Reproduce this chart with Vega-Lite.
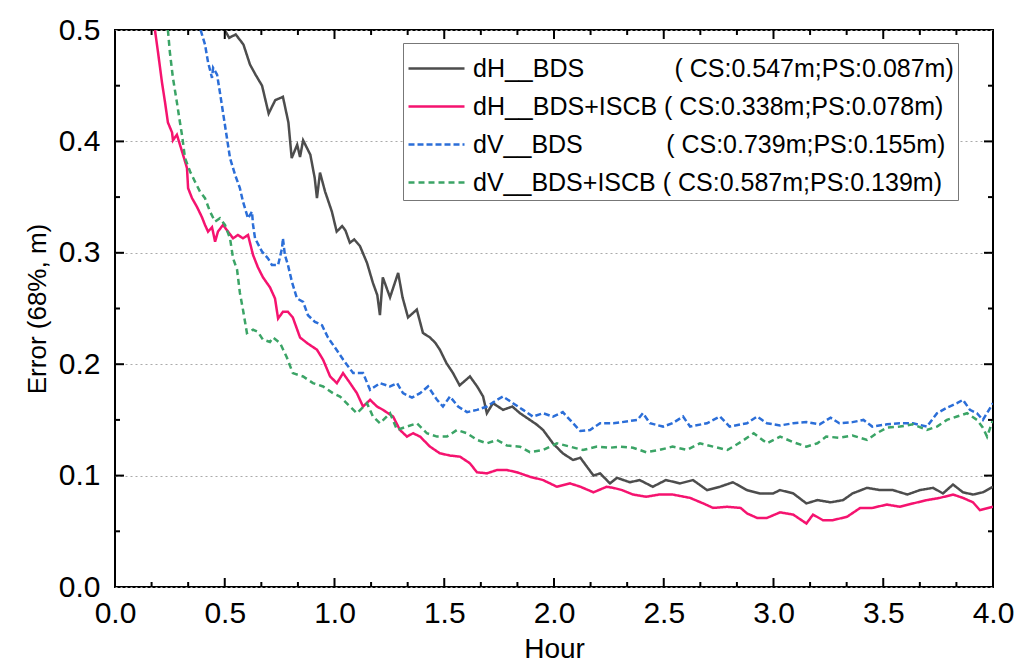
{
  "$schema": "https://vega.github.io/schema/vega-lite/v6.json",
  "width": 878,
  "height": 557,
  "autosize": {"type": "none"},
  "padding": {"left": 115, "top": 30, "right": 37, "bottom": 75},
  "background": "white",
  "config": {
    "view": {"stroke": "#000", "strokeWidth": 2},
    "font": "Liberation Sans",
    "axis": {"labelFont": "Liberation Sans", "titleFont": "Liberation Sans", "titleFontWeight": "normal", "labelColor": "#000", "titleColor": "#000", "ticks": false, "domain": false, "labelFlush": false}
  },
  "datasets": {
    "ticks": [
      {"a":"xM","v":0.5},{"a":"xM","v":1.0},{"a":"xM","v":1.5},{"a":"xM","v":2.0},{"a":"xM","v":2.5},{"a":"xM","v":3.0},{"a":"xM","v":3.5},
      {"a":"xm","v":0.16667},{"a":"xm","v":0.33333},{"a":"xm","v":0.66667},{"a":"xm","v":0.83333},{"a":"xm","v":1.16667},{"a":"xm","v":1.33333},{"a":"xm","v":1.66667},{"a":"xm","v":1.83333},{"a":"xm","v":2.16667},{"a":"xm","v":2.33333},{"a":"xm","v":2.66667},{"a":"xm","v":2.83333},{"a":"xm","v":3.16667},{"a":"xm","v":3.33333},{"a":"xm","v":3.66667},{"a":"xm","v":3.83333},
      {"a":"yM","v":0.1},{"a":"yM","v":0.2},{"a":"yM","v":0.3},{"a":"yM","v":0.4},
      {"a":"ym","v":0.05},{"a":"ym","v":0.15},{"a":"ym","v":0.25},{"a":"ym","v":0.35},{"a":"ym","v":0.45}
    ],
    "series": [
    {"s":"dH__BDS","h":0.50,"e":0.500},{"s":"dH__BDS","h":0.52,"e":0.493},{"s":"dH__BDS","h":0.55,"e":0.496},{"s":"dH__BDS","h":0.585,"e":0.487},{"s":"dH__BDS","h":0.615,"e":0.469},{"s":"dH__BDS","h":0.64,"e":0.460},{"s":"dH__BDS","h":0.67,"e":0.450},{"s":"dH__BDS","h":0.70,"e":0.425},{"s":"dH__BDS","h":0.73,"e":0.437},{"s":"dH__BDS","h":0.765,"e":0.440},{"s":"dH__BDS","h":0.79,"e":0.417},{"s":"dH__BDS","h":0.805,"e":0.385},{"s":"dH__BDS","h":0.83,"e":0.397},{"s":"dH__BDS","h":0.843,"e":0.386},{"s":"dH__BDS","h":0.857,"e":0.401},{"s":"dH__BDS","h":0.89,"e":0.388},{"s":"dH__BDS","h":0.91,"e":0.367},{"s":"dH__BDS","h":0.92,"e":0.349},{"s":"dH__BDS","h":0.934,"e":0.372},{"s":"dH__BDS","h":0.957,"e":0.355},{"s":"dH__BDS","h":0.988,"e":0.337},{"s":"dH__BDS","h":1.01,"e":0.319},{"s":"dH__BDS","h":1.035,"e":0.324},{"s":"dH__BDS","h":1.05,"e":0.320},{"s":"dH__BDS","h":1.07,"e":0.309},{"s":"dH__BDS","h":1.09,"e":0.312},{"s":"dH__BDS","h":1.116,"e":0.306},{"s":"dH__BDS","h":1.148,"e":0.291},{"s":"dH__BDS","h":1.175,"e":0.273},{"s":"dH__BDS","h":1.195,"e":0.262},{"s":"dH__BDS","h":1.207,"e":0.244},{"s":"dH__BDS","h":1.22,"e":0.278},{"s":"dH__BDS","h":1.253,"e":0.260},{"s":"dH__BDS","h":1.29,"e":0.282},{"s":"dH__BDS","h":1.31,"e":0.260},{"s":"dH__BDS","h":1.335,"e":0.242},{"s":"dH__BDS","h":1.375,"e":0.249},{"s":"dH__BDS","h":1.403,"e":0.228},{"s":"dH__BDS","h":1.435,"e":0.224},{"s":"dH__BDS","h":1.46,"e":0.219},{"s":"dH__BDS","h":1.48,"e":0.213},{"s":"dH__BDS","h":1.51,"e":0.201},{"s":"dH__BDS","h":1.54,"e":0.192},{"s":"dH__BDS","h":1.57,"e":0.181},{"s":"dH__BDS","h":1.617,"e":0.189},{"s":"dH__BDS","h":1.65,"e":0.180},{"s":"dH__BDS","h":1.677,"e":0.171},{"s":"dH__BDS","h":1.694,"e":0.156},{"s":"dH__BDS","h":1.722,"e":0.165},{"s":"dH__BDS","h":1.768,"e":0.159},{"s":"dH__BDS","h":1.81,"e":0.162},{"s":"dH__BDS","h":1.845,"e":0.156},{"s":"dH__BDS","h":1.89,"e":0.150},{"s":"dH__BDS","h":1.92,"e":0.146},{"s":"dH__BDS","h":1.95,"e":0.141},{"s":"dH__BDS","h":1.995,"e":0.129},{"s":"dH__BDS","h":2.04,"e":0.120},{"s":"dH__BDS","h":2.087,"e":0.114},{"s":"dH__BDS","h":2.12,"e":0.116},{"s":"dH__BDS","h":2.15,"e":0.108},{"s":"dH__BDS","h":2.18,"e":0.100},{"s":"dH__BDS","h":2.21,"e":0.102},{"s":"dH__BDS","h":2.255,"e":0.093},{"s":"dH__BDS","h":2.287,"e":0.098},{"s":"dH__BDS","h":2.346,"e":0.094},{"s":"dH__BDS","h":2.39,"e":0.096},{"s":"dH__BDS","h":2.45,"e":0.090},{"s":"dH__BDS","h":2.51,"e":0.096},{"s":"dH__BDS","h":2.574,"e":0.093},{"s":"dH__BDS","h":2.633,"e":0.096},{"s":"dH__BDS","h":2.697,"e":0.087},{"s":"dH__BDS","h":2.756,"e":0.090},{"s":"dH__BDS","h":2.815,"e":0.094},{"s":"dH__BDS","h":2.879,"e":0.087},{"s":"dH__BDS","h":2.938,"e":0.084},{"s":"dH__BDS","h":2.998,"e":0.084},{"s":"dH__BDS","h":3.03,"e":0.087},{"s":"dH__BDS","h":3.09,"e":0.084},{"s":"dH__BDS","h":3.15,"e":0.075},{"s":"dH__BDS","h":3.2,"e":0.078},{"s":"dH__BDS","h":3.26,"e":0.076},{"s":"dH__BDS","h":3.317,"e":0.078},{"s":"dH__BDS","h":3.36,"e":0.084},{"s":"dH__BDS","h":3.426,"e":0.089},{"s":"dH__BDS","h":3.485,"e":0.087},{"s":"dH__BDS","h":3.544,"e":0.087},{"s":"dH__BDS","h":3.61,"e":0.083},{"s":"dH__BDS","h":3.667,"e":0.087},{"s":"dH__BDS","h":3.727,"e":0.089},{"s":"dH__BDS","h":3.772,"e":0.084},{"s":"dH__BDS","h":3.818,"e":0.092},{"s":"dH__BDS","h":3.863,"e":0.085},{"s":"dH__BDS","h":3.909,"e":0.083},{"s":"dH__BDS","h":3.954,"e":0.085},{"s":"dH__BDS","h":4.0,"e":0.090},

    {"s":"dH__BDS+ISCB","h":0.182,"e":0.500},{"s":"dH__BDS+ISCB","h":0.196,"e":0.480},{"s":"dH__BDS+ISCB","h":0.214,"e":0.453},{"s":"dH__BDS+ISCB","h":0.228,"e":0.435},{"s":"dH__BDS+ISCB","h":0.241,"e":0.417},{"s":"dH__BDS+ISCB","h":0.26,"e":0.408},{"s":"dH__BDS+ISCB","h":0.264,"e":0.401},{"s":"dH__BDS+ISCB","h":0.282,"e":0.406},{"s":"dH__BDS+ISCB","h":0.296,"e":0.397},{"s":"dH__BDS+ISCB","h":0.31,"e":0.388},{"s":"dH__BDS+ISCB","h":0.328,"e":0.376},{"s":"dH__BDS+ISCB","h":0.333,"e":0.358},{"s":"dH__BDS+ISCB","h":0.351,"e":0.349},{"s":"dH__BDS+ISCB","h":0.374,"e":0.341},{"s":"dH__BDS+ISCB","h":0.396,"e":0.332},{"s":"dH__BDS+ISCB","h":0.41,"e":0.325},{"s":"dH__BDS+ISCB","h":0.424,"e":0.319},{"s":"dH__BDS+ISCB","h":0.442,"e":0.323},{"s":"dH__BDS+ISCB","h":0.456,"e":0.310},{"s":"dH__BDS+ISCB","h":0.469,"e":0.319},{"s":"dH__BDS+ISCB","h":0.492,"e":0.325},{"s":"dH__BDS+ISCB","h":0.515,"e":0.319},{"s":"dH__BDS+ISCB","h":0.538,"e":0.313},{"s":"dH__BDS+ISCB","h":0.56,"e":0.316},{"s":"dH__BDS+ISCB","h":0.583,"e":0.313},{"s":"dH__BDS+ISCB","h":0.606,"e":0.316},{"s":"dH__BDS+ISCB","h":0.629,"e":0.298},{"s":"dH__BDS+ISCB","h":0.651,"e":0.287},{"s":"dH__BDS+ISCB","h":0.674,"e":0.278},{"s":"dH__BDS+ISCB","h":0.706,"e":0.269},{"s":"dH__BDS+ISCB","h":0.729,"e":0.259},{"s":"dH__BDS+ISCB","h":0.743,"e":0.241},{"s":"dH__BDS+ISCB","h":0.765,"e":0.247},{"s":"dH__BDS+ISCB","h":0.788,"e":0.247},{"s":"dH__BDS+ISCB","h":0.81,"e":0.242},{"s":"dH__BDS+ISCB","h":0.843,"e":0.224},{"s":"dH__BDS+ISCB","h":0.875,"e":0.219},{"s":"dH__BDS+ISCB","h":0.92,"e":0.213},{"s":"dH__BDS+ISCB","h":0.948,"e":0.204},{"s":"dH__BDS+ISCB","h":0.98,"e":0.189},{"s":"dH__BDS+ISCB","h":1.011,"e":0.183},{"s":"dH__BDS+ISCB","h":1.039,"e":0.192},{"s":"dH__BDS+ISCB","h":1.071,"e":0.183},{"s":"dH__BDS+ISCB","h":1.102,"e":0.174},{"s":"dH__BDS+ISCB","h":1.13,"e":0.162},{"s":"dH__BDS+ISCB","h":1.162,"e":0.168},{"s":"dH__BDS+ISCB","h":1.194,"e":0.162},{"s":"dH__BDS+ISCB","h":1.221,"e":0.159},{"s":"dH__BDS+ISCB","h":1.267,"e":0.153},{"s":"dH__BDS+ISCB","h":1.298,"e":0.141},{"s":"dH__BDS+ISCB","h":1.33,"e":0.135},{"s":"dH__BDS+ISCB","h":1.358,"e":0.138},{"s":"dH__BDS+ISCB","h":1.39,"e":0.135},{"s":"dH__BDS+ISCB","h":1.435,"e":0.126},{"s":"dH__BDS+ISCB","h":1.48,"e":0.120},{"s":"dH__BDS+ISCB","h":1.526,"e":0.118},{"s":"dH__BDS+ISCB","h":1.572,"e":0.117},{"s":"dH__BDS+ISCB","h":1.617,"e":0.111},{"s":"dH__BDS+ISCB","h":1.649,"e":0.103},{"s":"dH__BDS+ISCB","h":1.694,"e":0.102},{"s":"dH__BDS+ISCB","h":1.74,"e":0.105},{"s":"dH__BDS+ISCB","h":1.786,"e":0.105},{"s":"dH__BDS+ISCB","h":1.831,"e":0.103},{"s":"dH__BDS+ISCB","h":1.89,"e":0.099},{"s":"dH__BDS+ISCB","h":1.95,"e":0.096},{"s":"dH__BDS+ISCB","h":2.013,"e":0.090},{"s":"dH__BDS+ISCB","h":2.073,"e":0.093},{"s":"dH__BDS+ISCB","h":2.12,"e":0.090},{"s":"dH__BDS+ISCB","h":2.18,"e":0.085},{"s":"dH__BDS+ISCB","h":2.24,"e":0.090},{"s":"dH__BDS+ISCB","h":2.27,"e":0.089},{"s":"dH__BDS+ISCB","h":2.31,"e":0.087},{"s":"dH__BDS+ISCB","h":2.36,"e":0.083},{"s":"dH__BDS+ISCB","h":2.42,"e":0.081},{"s":"dH__BDS+ISCB","h":2.48,"e":0.083},{"s":"dH__BDS+ISCB","h":2.54,"e":0.083},{"s":"dH__BDS+ISCB","h":2.62,"e":0.080},{"s":"dH__BDS+ISCB","h":2.68,"e":0.075},{"s":"dH__BDS+ISCB","h":2.725,"e":0.071},{"s":"dH__BDS+ISCB","h":2.79,"e":0.072},{"s":"dH__BDS+ISCB","h":2.85,"e":0.071},{"s":"dH__BDS+ISCB","h":2.88,"e":0.066},{"s":"dH__BDS+ISCB","h":2.925,"e":0.062},{"s":"dH__BDS+ISCB","h":2.97,"e":0.062},{"s":"dH__BDS+ISCB","h":3.03,"e":0.067},{"s":"dH__BDS+ISCB","h":3.09,"e":0.065},{"s":"dH__BDS+ISCB","h":3.15,"e":0.057},{"s":"dH__BDS+ISCB","h":3.18,"e":0.065},{"s":"dH__BDS+ISCB","h":3.225,"e":0.060},{"s":"dH__BDS+ISCB","h":3.27,"e":0.060},{"s":"dH__BDS+ISCB","h":3.335,"e":0.063},{"s":"dH__BDS+ISCB","h":3.395,"e":0.071},{"s":"dH__BDS+ISCB","h":3.45,"e":0.071},{"s":"dH__BDS+ISCB","h":3.517,"e":0.074},{"s":"dH__BDS+ISCB","h":3.576,"e":0.072},{"s":"dH__BDS+ISCB","h":3.635,"e":0.075},{"s":"dH__BDS+ISCB","h":3.699,"e":0.078},{"s":"dH__BDS+ISCB","h":3.758,"e":0.080},{"s":"dH__BDS+ISCB","h":3.818,"e":0.083},{"s":"dH__BDS+ISCB","h":3.863,"e":0.080},{"s":"dH__BDS+ISCB","h":3.909,"e":0.076},{"s":"dH__BDS+ISCB","h":3.94,"e":0.069},{"s":"dH__BDS+ISCB","h":4.0,"e":0.072},

    {"s":"dV__BDS","h":0.39,"e":0.500},{"s":"dV__BDS","h":0.41,"e":0.487},{"s":"dV__BDS","h":0.424,"e":0.471},{"s":"dV__BDS","h":0.442,"e":0.457},{"s":"dV__BDS","h":0.447,"e":0.466},{"s":"dV__BDS","h":0.465,"e":0.460},{"s":"dV__BDS","h":0.478,"e":0.444},{"s":"dV__BDS","h":0.492,"e":0.426},{"s":"dV__BDS","h":0.51,"e":0.403},{"s":"dV__BDS","h":0.524,"e":0.385},{"s":"dV__BDS","h":0.547,"e":0.370},{"s":"dV__BDS","h":0.569,"e":0.358},{"s":"dV__BDS","h":0.583,"e":0.346},{"s":"dV__BDS","h":0.606,"e":0.331},{"s":"dV__BDS","h":0.624,"e":0.337},{"s":"dV__BDS","h":0.629,"e":0.325},{"s":"dV__BDS","h":0.638,"e":0.313},{"s":"dV__BDS","h":0.67,"e":0.301},{"s":"dV__BDS","h":0.697,"e":0.295},{"s":"dV__BDS","h":0.715,"e":0.289},{"s":"dV__BDS","h":0.743,"e":0.289},{"s":"dV__BDS","h":0.761,"e":0.304},{"s":"dV__BDS","h":0.765,"e":0.313},{"s":"dV__BDS","h":0.774,"e":0.298},{"s":"dV__BDS","h":0.788,"e":0.289},{"s":"dV__BDS","h":0.806,"e":0.274},{"s":"dV__BDS","h":0.829,"e":0.259},{"s":"dV__BDS","h":0.857,"e":0.256},{"s":"dV__BDS","h":0.879,"e":0.244},{"s":"dV__BDS","h":0.911,"e":0.238},{"s":"dV__BDS","h":0.943,"e":0.235},{"s":"dV__BDS","h":0.97,"e":0.224},{"s":"dV__BDS","h":1.002,"e":0.215},{"s":"dV__BDS","h":1.04,"e":0.204},{"s":"dV__BDS","h":1.085,"e":0.192},{"s":"dV__BDS","h":1.13,"e":0.192},{"s":"dV__BDS","h":1.162,"e":0.177},{"s":"dV__BDS","h":1.207,"e":0.183},{"s":"dV__BDS","h":1.253,"e":0.180},{"s":"dV__BDS","h":1.285,"e":0.183},{"s":"dV__BDS","h":1.312,"e":0.174},{"s":"dV__BDS","h":1.353,"e":0.170},{"s":"dV__BDS","h":1.39,"e":0.174},{"s":"dV__BDS","h":1.426,"e":0.180},{"s":"dV__BDS","h":1.467,"e":0.168},{"s":"dV__BDS","h":1.494,"e":0.162},{"s":"dV__BDS","h":1.526,"e":0.171},{"s":"dV__BDS","h":1.563,"e":0.162},{"s":"dV__BDS","h":1.604,"e":0.157},{"s":"dV__BDS","h":1.649,"e":0.159},{"s":"dV__BDS","h":1.694,"e":0.162},{"s":"dV__BDS","h":1.74,"e":0.168},{"s":"dV__BDS","h":1.768,"e":0.171},{"s":"dV__BDS","h":1.813,"e":0.165},{"s":"dV__BDS","h":1.859,"e":0.159},{"s":"dV__BDS","h":1.904,"e":0.153},{"s":"dV__BDS","h":1.95,"e":0.156},{"s":"dV__BDS","h":1.995,"e":0.153},{"s":"dV__BDS","h":2.04,"e":0.157},{"s":"dV__BDS","h":2.087,"e":0.147},{"s":"dV__BDS","h":2.12,"e":0.140},{"s":"dV__BDS","h":2.164,"e":0.141},{"s":"dV__BDS","h":2.21,"e":0.147},{"s":"dV__BDS","h":2.27,"e":0.147},{"s":"dV__BDS","h":2.31,"e":0.148},{"s":"dV__BDS","h":2.38,"e":0.150},{"s":"dV__BDS","h":2.405,"e":0.156},{"s":"dV__BDS","h":2.437,"e":0.147},{"s":"dV__BDS","h":2.497,"e":0.144},{"s":"dV__BDS","h":2.54,"e":0.147},{"s":"dV__BDS","h":2.588,"e":0.153},{"s":"dV__BDS","h":2.62,"e":0.144},{"s":"dV__BDS","h":2.697,"e":0.147},{"s":"dV__BDS","h":2.756,"e":0.153},{"s":"dV__BDS","h":2.8,"e":0.144},{"s":"dV__BDS","h":2.879,"e":0.147},{"s":"dV__BDS","h":2.925,"e":0.153},{"s":"dV__BDS","h":2.97,"e":0.147},{"s":"dV__BDS","h":3.03,"e":0.145},{"s":"dV__BDS","h":3.09,"e":0.147},{"s":"dV__BDS","h":3.15,"e":0.148},{"s":"dV__BDS","h":3.21,"e":0.146},{"s":"dV__BDS","h":3.26,"e":0.152},{"s":"dV__BDS","h":3.3,"e":0.147},{"s":"dV__BDS","h":3.36,"e":0.148},{"s":"dV__BDS","h":3.41,"e":0.150},{"s":"dV__BDS","h":3.45,"e":0.144},{"s":"dV__BDS","h":3.517,"e":0.146},{"s":"dV__BDS","h":3.576,"e":0.147},{"s":"dV__BDS","h":3.635,"e":0.147},{"s":"dV__BDS","h":3.699,"e":0.144},{"s":"dV__BDS","h":3.745,"e":0.156},{"s":"dV__BDS","h":3.79,"e":0.161},{"s":"dV__BDS","h":3.836,"e":0.165},{"s":"dV__BDS","h":3.863,"e":0.168},{"s":"dV__BDS","h":3.895,"e":0.159},{"s":"dV__BDS","h":3.927,"e":0.156},{"s":"dV__BDS","h":3.954,"e":0.150},{"s":"dV__BDS","h":4.0,"e":0.165},

    {"s":"dV__BDS+ISCB","h":0.241,"e":0.500},{"s":"dV__BDS+ISCB","h":0.25,"e":0.480},{"s":"dV__BDS+ISCB","h":0.264,"e":0.457},{"s":"dV__BDS+ISCB","h":0.282,"e":0.435},{"s":"dV__BDS+ISCB","h":0.296,"e":0.417},{"s":"dV__BDS+ISCB","h":0.305,"e":0.406},{"s":"dV__BDS+ISCB","h":0.319,"e":0.385},{"s":"dV__BDS+ISCB","h":0.342,"e":0.373},{"s":"dV__BDS+ISCB","h":0.364,"e":0.364},{"s":"dV__BDS+ISCB","h":0.387,"e":0.355},{"s":"dV__BDS+ISCB","h":0.41,"e":0.349},{"s":"dV__BDS+ISCB","h":0.433,"e":0.337},{"s":"dV__BDS+ISCB","h":0.456,"e":0.328},{"s":"dV__BDS+ISCB","h":0.478,"e":0.331},{"s":"dV__BDS+ISCB","h":0.501,"e":0.325},{"s":"dV__BDS+ISCB","h":0.524,"e":0.313},{"s":"dV__BDS+ISCB","h":0.538,"e":0.295},{"s":"dV__BDS+ISCB","h":0.556,"e":0.285},{"s":"dV__BDS+ISCB","h":0.569,"e":0.264},{"s":"dV__BDS+ISCB","h":0.583,"e":0.249},{"s":"dV__BDS+ISCB","h":0.601,"e":0.228},{"s":"dV__BDS+ISCB","h":0.629,"e":0.231},{"s":"dV__BDS+ISCB","h":0.651,"e":0.229},{"s":"dV__BDS+ISCB","h":0.674,"e":0.222},{"s":"dV__BDS+ISCB","h":0.706,"e":0.220},{"s":"dV__BDS+ISCB","h":0.72,"e":0.224},{"s":"dV__BDS+ISCB","h":0.752,"e":0.219},{"s":"dV__BDS+ISCB","h":0.783,"e":0.206},{"s":"dV__BDS+ISCB","h":0.81,"e":0.192},{"s":"dV__BDS+ISCB","h":0.857,"e":0.189},{"s":"dV__BDS+ISCB","h":0.902,"e":0.183},{"s":"dV__BDS+ISCB","h":0.948,"e":0.180},{"s":"dV__BDS+ISCB","h":0.993,"e":0.174},{"s":"dV__BDS+ISCB","h":1.025,"e":0.171},{"s":"dV__BDS+ISCB","h":1.071,"e":0.162},{"s":"dV__BDS+ISCB","h":1.102,"e":0.156},{"s":"dV__BDS+ISCB","h":1.148,"e":0.165},{"s":"dV__BDS+ISCB","h":1.175,"e":0.153},{"s":"dV__BDS+ISCB","h":1.207,"e":0.147},{"s":"dV__BDS+ISCB","h":1.253,"e":0.156},{"s":"dV__BDS+ISCB","h":1.285,"e":0.141},{"s":"dV__BDS+ISCB","h":1.33,"e":0.144},{"s":"dV__BDS+ISCB","h":1.376,"e":0.147},{"s":"dV__BDS+ISCB","h":1.421,"e":0.138},{"s":"dV__BDS+ISCB","h":1.467,"e":0.135},{"s":"dV__BDS+ISCB","h":1.512,"e":0.135},{"s":"dV__BDS+ISCB","h":1.558,"e":0.141},{"s":"dV__BDS+ISCB","h":1.604,"e":0.138},{"s":"dV__BDS+ISCB","h":1.649,"e":0.132},{"s":"dV__BDS+ISCB","h":1.694,"e":0.129},{"s":"dV__BDS+ISCB","h":1.74,"e":0.132},{"s":"dV__BDS+ISCB","h":1.786,"e":0.127},{"s":"dV__BDS+ISCB","h":1.845,"e":0.126},{"s":"dV__BDS+ISCB","h":1.89,"e":0.121},{"s":"dV__BDS+ISCB","h":1.95,"e":0.123},{"s":"dV__BDS+ISCB","h":2.013,"e":0.129},{"s":"dV__BDS+ISCB","h":2.073,"e":0.126},{"s":"dV__BDS+ISCB","h":2.132,"e":0.123},{"s":"dV__BDS+ISCB","h":2.196,"e":0.126},{"s":"dV__BDS+ISCB","h":2.255,"e":0.125},{"s":"dV__BDS+ISCB","h":2.3,"e":0.126},{"s":"dV__BDS+ISCB","h":2.36,"e":0.125},{"s":"dV__BDS+ISCB","h":2.42,"e":0.121},{"s":"dV__BDS+ISCB","h":2.48,"e":0.123},{"s":"dV__BDS+ISCB","h":2.54,"e":0.126},{"s":"dV__BDS+ISCB","h":2.606,"e":0.123},{"s":"dV__BDS+ISCB","h":2.665,"e":0.129},{"s":"dV__BDS+ISCB","h":2.725,"e":0.126},{"s":"dV__BDS+ISCB","h":2.79,"e":0.123},{"s":"dV__BDS+ISCB","h":2.85,"e":0.130},{"s":"dV__BDS+ISCB","h":2.91,"e":0.138},{"s":"dV__BDS+ISCB","h":2.97,"e":0.129},{"s":"dV__BDS+ISCB","h":3.03,"e":0.135},{"s":"dV__BDS+ISCB","h":3.09,"e":0.130},{"s":"dV__BDS+ISCB","h":3.15,"e":0.126},{"s":"dV__BDS+ISCB","h":3.2,"e":0.129},{"s":"dV__BDS+ISCB","h":3.24,"e":0.135},{"s":"dV__BDS+ISCB","h":3.3,"e":0.134},{"s":"dV__BDS+ISCB","h":3.36,"e":0.136},{"s":"dV__BDS+ISCB","h":3.426,"e":0.132},{"s":"dV__BDS+ISCB","h":3.47,"e":0.138},{"s":"dV__BDS+ISCB","h":3.517,"e":0.143},{"s":"dV__BDS+ISCB","h":3.576,"e":0.144},{"s":"dV__BDS+ISCB","h":3.635,"e":0.146},{"s":"dV__BDS+ISCB","h":3.699,"e":0.141},{"s":"dV__BDS+ISCB","h":3.745,"e":0.144},{"s":"dV__BDS+ISCB","h":3.79,"e":0.150},{"s":"dV__BDS+ISCB","h":3.836,"e":0.153},{"s":"dV__BDS+ISCB","h":3.882,"e":0.156},{"s":"dV__BDS+ISCB","h":3.927,"e":0.150},{"s":"dV__BDS+ISCB","h":3.954,"e":0.143},{"s":"dV__BDS+ISCB","h":3.973,"e":0.135},{"s":"dV__BDS+ISCB","h":4.0,"e":0.150}
    ]
  },
  "data": {"name": "series"},
  "resolve": {"axis": {"x": "independent", "y": "independent"}},
  "layer": [
    {
      "mark": {"type": "line", "strokeWidth": 2.5, "clip": true},
      "encoding": {
        "x": {"field": "h", "type": "quantitative", "scale": {"domain": [0, 4], "nice": false, "zero": false},
          "axis": {"orient": "bottom", "values": [0, 0.5, 1, 1.5, 2, 2.5, 3, 3.5, 4], "format": ".1f", "grid": false, "labelFontSize": 30, "labelPadding": 11, "title": "Hour", "titleFontSize": 28, "titlePadding": 7}},
        "y": {"field": "e", "type": "quantitative", "scale": {"domain": [0, 0.5], "nice": false},
          "axis": {"orient": "left", "values": [0, 0.1, 0.2, 0.3, 0.4, 0.5], "format": ".1f", "labelFontSize": 30, "labelPadding": 15, "grid": true, "gridDash": [2, 3], "gridColor": "#aaa", "gridWidth": 1, "title": "Error (68%, m)", "titleFontSize": 26, "titlePadding": 8}},
        "color": {"field": "s", "type": "nominal",
          "scale": {"domain": ["dH__BDS", "dH__BDS+ISCB", "dV__BDS", "dV__BDS+ISCB"], "range": ["#4d4d4d", "#f5136f", "#2b6ed8", "#3ba466"]},
          "legend": {"title": null, "orient": "none", "legendX": 288, "legendY": 13, "strokeColor": "#777", "fillColor": "white", "padding": 4, "labelFont": "Liberation Sans", "labelFontSize": 25, "labelColor": "#000", "symbolType": "M-1,0H1.8", "symbolSize": 1600, "symbolStrokeWidth": 2.5, "symbolFillColor": "transparent", "rowPadding": 3, "labelOffset": 23, "labelLimit": 800,
            "labelExpr": "datum.label == 'dH__BDS' ? 'dH__BDS\u00a0\u00a0\u00a0\u00a0\u00a0\u00a0\u00a0\u00a0\u00a0\u00a0\u00a0\u00a0\u00a0( CS:0.547m;PS:0.087m)' : datum.label == 'dH__BDS+ISCB' ? 'dH__BDS+ISCB ( CS:0.338m;PS:0.078m)\u00a0\u00a0\u00a0\u00a0' : datum.label == 'dV__BDS' ? 'dV__BDS\u00a0\u00a0\u00a0\u00a0\u00a0\u00a0\u00a0\u00a0\u00a0\u00a0\u00a0\u00a0( CS:0.739m;PS:0.155m)' : 'dV__BDS+ISCB ( CS:0.587m;PS:0.139m)'"}},
        "strokeDash": {"field": "s", "type": "nominal",
          "scale": {"domain": ["dH__BDS", "dH__BDS+ISCB", "dV__BDS", "dV__BDS+ISCB"], "range": [[1, 0], [1, 0], [6, 3], [6, 4]]},
          "legend": {"title": null, "orient": "none", "legendX": 288, "legendY": 13, "strokeColor": "#777", "fillColor": "white", "padding": 4, "labelFont": "Liberation Sans", "labelFontSize": 25, "labelColor": "#000", "symbolType": "M-1,0H1.8", "symbolSize": 1600, "symbolStrokeWidth": 2.5, "symbolFillColor": "transparent", "rowPadding": 3, "labelOffset": 23, "labelLimit": 800,
            "labelExpr": "datum.label == 'dH__BDS' ? 'dH__BDS\u00a0\u00a0\u00a0\u00a0\u00a0\u00a0\u00a0\u00a0\u00a0\u00a0\u00a0\u00a0\u00a0( CS:0.547m;PS:0.087m)' : datum.label == 'dH__BDS+ISCB' ? 'dH__BDS+ISCB ( CS:0.338m;PS:0.078m)\u00a0\u00a0\u00a0\u00a0' : datum.label == 'dV__BDS' ? 'dV__BDS\u00a0\u00a0\u00a0\u00a0\u00a0\u00a0\u00a0\u00a0\u00a0\u00a0\u00a0\u00a0( CS:0.739m;PS:0.155m)' : 'dV__BDS+ISCB ( CS:0.587m;PS:0.139m)'"}}
      }
    },
    {
      "data": {"name": "ticks"},
      "transform": [{"filter": "datum.a == 'xM'"}],
      "mark": {"type": "tick", "orient": "vertical", "size": 18, "thickness": 2, "color": "#000", "opacity": 1, "clip": true},
      "encoding": {"x": {"field": "v", "type": "quantitative", "axis": null}, "y": {"datum": 0, "type": "quantitative", "axis": null}}
    },
    {
      "data": {"name": "ticks"},
      "transform": [{"filter": "datum.a == 'xM'"}],
      "mark": {"type": "tick", "orient": "vertical", "size": 18, "thickness": 2, "color": "#000", "opacity": 1, "clip": true},
      "encoding": {"x": {"field": "v", "type": "quantitative", "axis": null}, "y": {"datum": 0.5, "type": "quantitative", "axis": null}}
    },
    {
      "data": {"name": "ticks"},
      "transform": [{"filter": "datum.a == 'xm'"}],
      "mark": {"type": "tick", "orient": "vertical", "size": 10, "thickness": 2, "color": "#000", "opacity": 1, "clip": true},
      "encoding": {"x": {"field": "v", "type": "quantitative", "axis": null}, "y": {"datum": 0, "type": "quantitative", "axis": null}}
    },
    {
      "data": {"name": "ticks"},
      "transform": [{"filter": "datum.a == 'xm'"}],
      "mark": {"type": "tick", "orient": "vertical", "size": 10, "thickness": 2, "color": "#000", "opacity": 1, "clip": true},
      "encoding": {"x": {"field": "v", "type": "quantitative", "axis": null}, "y": {"datum": 0.5, "type": "quantitative", "axis": null}}
    },
    {
      "data": {"name": "ticks"},
      "transform": [{"filter": "datum.a == 'yM'"}],
      "mark": {"type": "tick", "orient": "horizontal", "size": 18, "thickness": 2, "color": "#000", "opacity": 1, "clip": true},
      "encoding": {"y": {"field": "v", "type": "quantitative", "axis": null}, "x": {"datum": 0, "type": "quantitative", "axis": null}}
    },
    {
      "data": {"name": "ticks"},
      "transform": [{"filter": "datum.a == 'yM'"}],
      "mark": {"type": "tick", "orient": "horizontal", "size": 18, "thickness": 2, "color": "#000", "opacity": 1, "clip": true},
      "encoding": {"y": {"field": "v", "type": "quantitative", "axis": null}, "x": {"datum": 4, "type": "quantitative", "axis": null}}
    },
    {
      "data": {"name": "ticks"},
      "transform": [{"filter": "datum.a == 'ym'"}],
      "mark": {"type": "tick", "orient": "horizontal", "size": 10, "thickness": 2, "color": "#000", "opacity": 1, "clip": true},
      "encoding": {"y": {"field": "v", "type": "quantitative", "axis": null}, "x": {"datum": 0, "type": "quantitative", "axis": null}}
    },
    {
      "data": {"name": "ticks"},
      "transform": [{"filter": "datum.a == 'ym'"}],
      "mark": {"type": "tick", "orient": "horizontal", "size": 10, "thickness": 2, "color": "#000", "opacity": 1, "clip": true},
      "encoding": {"y": {"field": "v", "type": "quantitative", "axis": null}, "x": {"datum": 4, "type": "quantitative", "axis": null}}
    }
  ]
}
